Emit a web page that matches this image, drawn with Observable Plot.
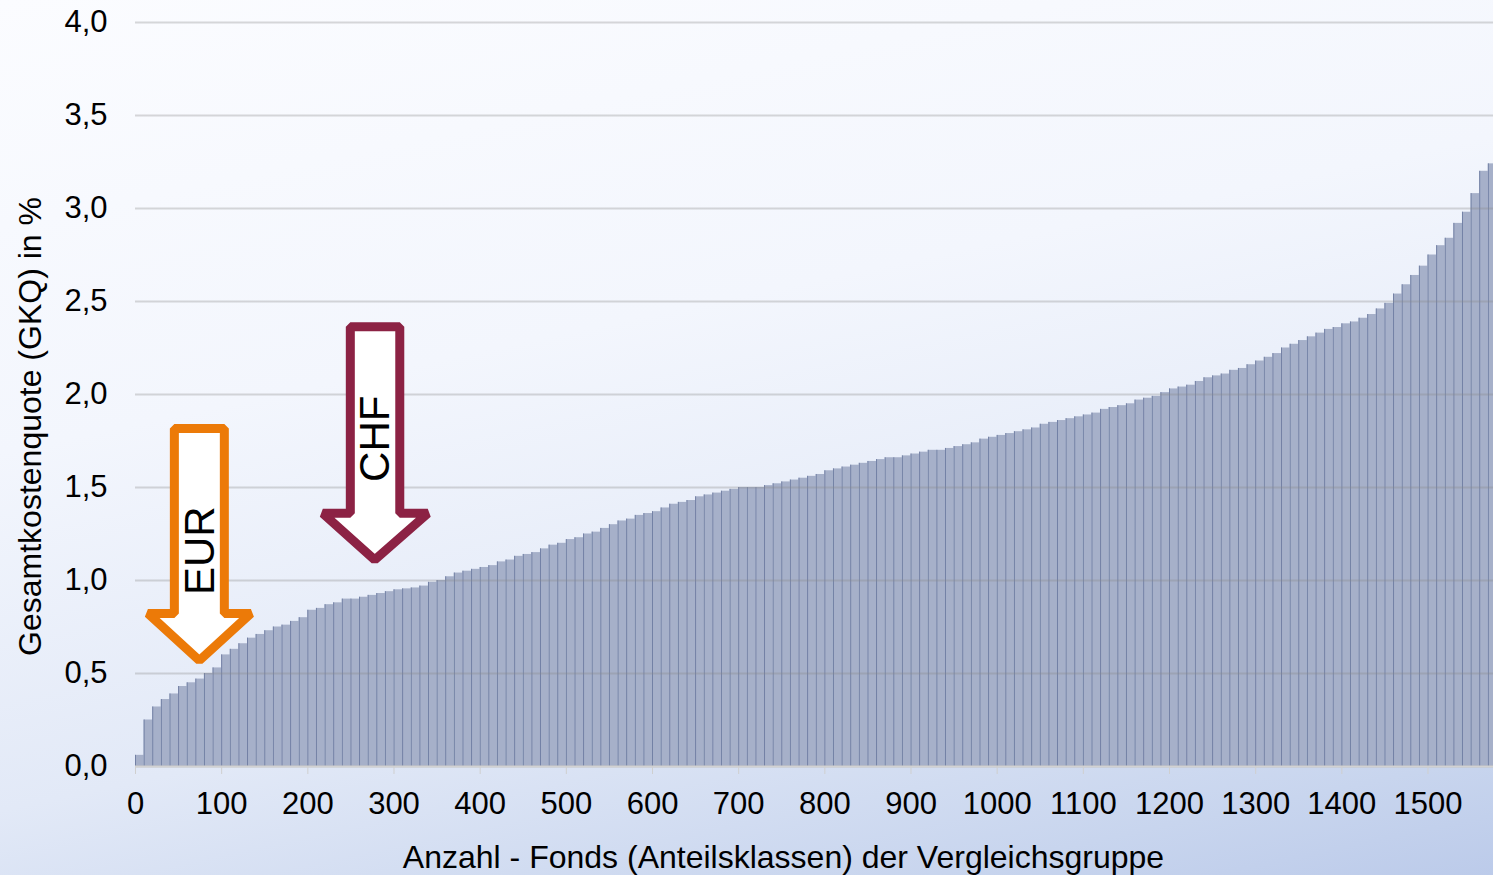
<!DOCTYPE html>
<html><head><meta charset="utf-8">
<script src="https://cdn.jsdelivr.net/npm/d3@7"></script>
<script src="https://cdn.jsdelivr.net/npm/@observablehq/plot@0.6"></script>
<style>
html,body{margin:0;padding:0;width:1493px;height:875px;overflow:hidden;}
body{background:linear-gradient(168deg,#fbfcff 0%,#f3f6fd 38%,#e2e9f7 68%,#c8d5ee 90%,#bccbea 100%);font-family:"Liberation Sans",Arial,sans-serif;}
svg{overflow:visible;}
</style></head><body><div id="chart"></div>
<script>
// Gesamtkostenquote (GKQ) in %, funds sorted ascending, one value per group of 10 funds
const binSize = 10;
const totalFunds = 1576;
const gkq = [
0.06,0.25,0.32,0.36,0.39,0.43,0.45,0.47,0.50,0.53,
0.60,0.63,0.66,0.69,0.71,0.73,0.75,0.76,0.78,0.80,
0.84,0.85,0.87,0.88,0.90,0.90,0.91,0.92,0.93,0.94,
0.95,0.955,0.96,0.97,0.99,1.00,1.02,1.04,1.05,1.06,
1.07,1.08,1.10,1.11,1.13,1.14,1.15,1.17,1.19,1.20,
1.22,1.23,1.25,1.26,1.28,1.30,1.32,1.33,1.35,1.36,
1.37,1.39,1.41,1.42,1.43,1.45,1.46,1.47,1.48,1.49,
1.50,1.50,1.50,1.51,1.52,1.53,1.54,1.55,1.56,1.57,
1.59,1.60,1.61,1.62,1.63,1.64,1.65,1.66,1.66,1.67,
1.68,1.69,1.70,1.70,1.71,1.72,1.73,1.74,1.76,1.77,
1.78,1.79,1.80,1.81,1.82,1.84,1.85,1.86,1.87,1.88,
1.89,1.90,1.92,1.93,1.94,1.95,1.97,1.98,1.99,2.01,
2.03,2.04,2.05,2.07,2.09,2.10,2.11,2.13,2.14,2.16,
2.18,2.20,2.22,2.25,2.27,2.29,2.31,2.33,2.35,2.36,
2.38,2.39,2.41,2.43,2.46,2.49,2.54,2.59,2.64,2.69,
2.75,2.80,2.84,2.92,2.98,3.08,3.20,3.24
];
const xTicks = [0,100,200,300,400,500,600,700,800,900,1000,1100,1200,1300,1400,1500];
const yTicks = [0,0.5,1,1.5,2,2.5,3,3.5,4];
const xLabel = "Anzahl - Fonds (Anteilsklassen) der Vergleichsgruppe";
const yLabel = "Gesamtkostenquote (GKQ) in %";

// arrow annotations (data coordinates: fund rank, GKQ %)
const eurArrowX = [45.1,103.1,103.1,133.9,74.1,14.4,45.1];
const eurArrowY = [1.817,1.817,0.823,0.823,0.570,0.823,0.823];
const chfArrowX = [249.3,306.7,306.7,339.2,277.6,217.4,249.3];
const chfArrowY = [2.364,2.364,1.361,1.361,1.111,1.361,1.361];
const arrowLabels = [
  {label:"EUR", x:76, y:1.16},
  {label:"CHF", x:279, y:1.762}
];

const bars = gkq.map((v,i)=>({x1:i*binSize, x2:Math.min((i+1)*binSize,totalFunds), v}));
const eurPts = eurArrowX.map((x,i)=>({x, y:eurArrowY[i]}));
const chfPts = chfArrowX.map((x,i)=>({x, y:chfArrowY[i]}));

const font = "Liberation Sans, Arial, sans-serif";
const plot = Plot.plot({
  width:1493, height:875,
  marginLeft:135, marginRight:0, marginTop:22, marginBottom:109,
  style:{background:"transparent", fontFamily:font, fontSize:"31px", color:"#000", overflow:"visible"},
  x:{domain:[0,totalFunds]},
  y:{domain:[0,4]},
  marks:[
    Plot.rectY(bars, {x1:"x1", x2:"x2", y:"v", fill:"#a6b0c9"}),
    Plot.ruleX(bars, {x:"x1", y1:0, y2:"v", stroke:"#7381a5", strokeWidth:1}),
    Plot.ruleY(yTicks, {stroke:"#8a8a8a", strokeOpacity:0.32, strokeWidth:2}),
    Plot.ruleY([0], {stroke:"#d2d2d2", strokeWidth:2}),
    Plot.axisY(yTicks, {tickSize:0, tickPadding:28, tickFormat:d=>d.toFixed(1).replace(".",","), label:null, fontSize:31, fill:"#000"}),
    Plot.axisX(xTicks, {tickSize:8, tickPadding:17, tickFormat:d=>String(d), label:null, fontSize:31, stroke:"#cfcfcf", fill:"#000"}),
    Plot.text([xLabel], {frameAnchor:"bottom", textAnchor:"middle", lineAnchor:"middle", dx:-31, dy:91, fontSize:32, fill:"#000"}),
    Plot.text([yLabel], {frameAnchor:"left", textAnchor:"middle", lineAnchor:"middle", rotate:-90, dx:-105, dy:32, fontSize:32, fill:"#000"}),
    Plot.line(eurPts, {x:"x", y:"y", curve:"linear-closed", fill:"white", stroke:"#ec7a08", strokeWidth:9, strokeLinejoin:"miter"}),
    Plot.line(chfPts, {x:"x", y:"y", curve:"linear-closed", fill:"white", stroke:"#8c2244", strokeWidth:9, strokeLinejoin:"miter"}),
    Plot.text(arrowLabels, {x:"x", y:"y", text:"label", rotate:-90, fontSize:42, fill:"#000"})
  ]
});
document.getElementById("chart").appendChild(plot);
</script></body></html>
